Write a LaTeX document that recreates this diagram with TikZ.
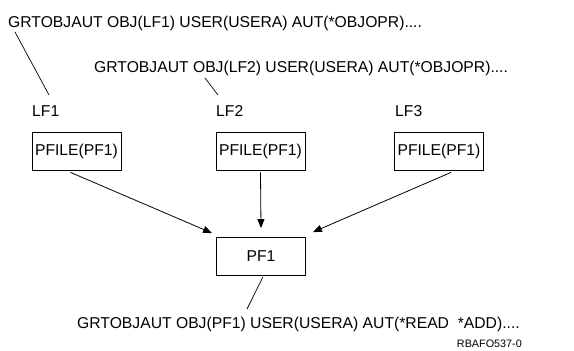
\documentclass[tikz,border=0pt]{standalone}
\usepackage{fontspec}
\setmainfont{Liberation Sans}
\usetikzlibrary{arrows.meta,calc}
\tikzset{
  txt/.style={inner sep=0pt, anchor=base west, font=\fontsize{15.7}{18}\selectfont},
  boxnode/.style={draw, line width=0.8pt, minimum width=89pt, minimum height=38pt, inner sep=0pt, font=\fontsize{15.7}{18}\selectfont},
  lead/.style={line width=0.7pt},
  arr/.style={line width=0.8pt, -{Triangle[length=9pt,width=7pt]}}
}
\begin{document}
\begin{tikzpicture}[x=1pt,y=-1pt]
\useasboundingbox (0,0) rectangle (574,351);
\node[txt] (t1) at (8,27) {GRTOBJAUT OBJ(LF1) USER(USERA) AUT(*OBJOPR)....};
\node[txt] (t2) at (94,72) {GRTOBJAUT OBJ(LF2) USER(USERA) AUT(*OBJOPR)....};
\node[txt] (lf1) at (32,116) {LF1};
\node[txt] (lf2) at (216,116) {LF2};
\node[txt] (lf3) at (395,116) {LF3};
\node[boxnode] (b1) at (76.5,151) {PFILE(PF1)};
\node[boxnode] (b2) at (260.5,151) {PFILE(PF1)};
\node[boxnode] (b3) at (439,151) {PFILE(PF1)};
\node[boxnode] (pf) at (261,256.5) {PF1};
\node[txt] (bt) at (77,328) {GRTOBJAUT OBJ(PF1) USER(USERA) AUT(*READ\ \ *ADD)....};
\node[inner sep=0pt, anchor=base east, font=\fontsize{10.8}{13}\selectfont] (id) at (522,347) {RBAFO537-0};
\draw[lead] ($(t1.base west)+(7,5)$) -- ($(lf1.base west)+(17,-21)$);
\draw[lead] ($(t2.base west)+(111,6)$) -- ($(lf2.base west)+(2,-21)$);
\draw[lead] ($(pf.south)+(2,1)$) -- ($(bt.base west)+(170,-19)$);
\draw[arr] ($(b1.south)+(-6,2)$) -- ($(pf.north west)+(-4,-4)$);
\draw[arr] ($(b2.south)+(0,2)$) -- ($(pf.north)+(0,-9)$);
\draw[arr] ($(b3.south)+(12,2)$) -- ($(pf.north east)+(7,-5)$);
\end{tikzpicture}
\end{document}
